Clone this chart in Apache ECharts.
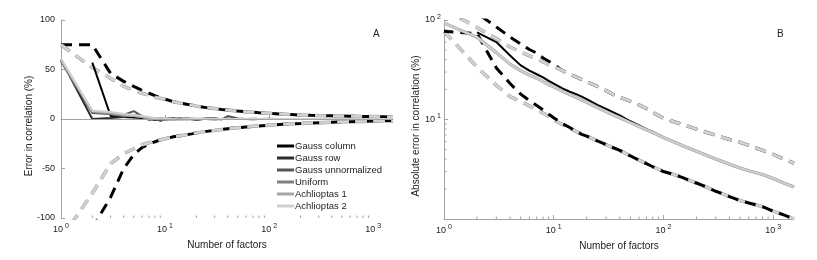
<!DOCTYPE html>
<html><head><meta charset="utf-8">
<script src="https://cdn.jsdelivr.net/npm/echarts@6/dist/echarts.min.js"></script>
<style>html,body{margin:0;padding:0;background:#fff}#c{width:817px;height:260px}</style>
</head><body><div id="c"></div>
<script>
// ---------- data ----------
const factors = [1,2,3,4,5,6,7,8,9,10,12,14,16,18,20,25,30,35,40,50,60,70,80,100,125,150,200,250,300,400,500,600,800,1000,1250,1550];

const methodNames = ['Gauss column','Gauss row','Gauss unnormalized','Uniform','Achlioptas 1','Achlioptas 2'];

// Panel A: signed error in correlation (%), mean per method
const gaussColumnErr = [null,57,3,2,1.5,1,0.5,0,-0.5,0.5,0,0.3,-0.3,0.2,0,0.1,-0.2,0.1,0,0,0.1,0,0,0,0,0,0,0,0,0,0,0,0,0,0,0];
const gaussRowErr    = [60,0,1,2,4,2,0,-1,0,1,0,-0.5,0.5,0,-0.5,0.3,0,0,0.2,0,0,-0.2,0,0,0,0,0,0,0,0,0,0,0,0,0,0];
const gaussUnnormErr = [59,6,5,4,8,3,-1,1,-2,0,1,-1,0.5,0,-1,0.5,1,-0.5,3,0.5,0,0.3,0,0.2,0,0,0,0,0,0,0,0,0,0,0,0];
const uniformErr     = [58,7,5,3,3,2,0,1,0,-1,0,1,0,-0.5,0,0.5,0,0,0.3,0,0,0,0,0,0,0,0,0,0,0,0,0,0,0,0,0];
const achl1Err       = [60,8,6,4,3,2,1,0,1,0,-1,0,0.5,0,0.3,0,-0.3,0,0,0,0,0,0,0,0,0,0,0,0,0,0,0,0,0,0,0];
const achl2Err       = [61,8,7,5,4,3,2,1,0,1,0,-1,0,0.5,0,0,0.3,0,0,0,0,0,0,0,0,0,0,0,0,0,0,0,0,0,0,0];

// Panel A: spread bounds (dashed)
const colUpperErr    = [75,75,46,38,33,29,26,23.5,21.5,20,17.5,16,15,14,13,11.5,10.5,9.5,9,8,7.3,6.8,6.3,5.7,5.1,4.7,4.1,3.7,3.5,3.3,3.1,2.9,2.6,2.4,2.2,2.0];
const othersUpperErr = [75,52,41,33,29,26,24,22,21,20,17.5,16,15,14,13,11.5,10.5,9.5,9,8,7.3,6.8,6.3,5.7,5.1,4.7,4.1,3.7,3.5,3.3,3.1,2.9,2.6,2.4,2.2,2.0];
const colLowerErr    = [-130,-110,-79,-50,-36,-29,-25,-23,-21,-20,-18,-17,-16,-15,-14,-12.5,-11.5,-10.5,-9.8,-8.8,-8,-7.4,-7,-6.3,-5.6,-5.1,-4.5,-4,-3.7,-3.2,-2.9,-2.7,-2.4,-2.1,-1.9,-1.7];
const othersLowerErr = [-121,-75,-45,-35,-30,-26,-24,-22.5,-21,-20,-18,-17,-16,-15,-14,-12.5,-11.5,-10.5,-9.8,-8.8,-8,-7.4,-7,-6.3,-5.6,-5.1,-4.5,-4,-3.7,-3.2,-2.9,-2.7,-2.4,-2.1,-1.9,-1.7];

// Panel B: absolute error in correlation (%)
const colAbs          = [null,75,60,44,35,31,28.5,26.5,24.5,23,20.5,19,18,17,16,14,12.8,11.8,11,9.6,8.7,8.0,7.5,6.6,5.95,5.45,4.8,4.35,4.0,3.55,3.25,3.05,2.8,2.55,2.3,2.1];
const othersAbs       = [93,67,47,36,31,28,26,24,22.5,21.3,19.3,17.8,16.7,15.7,14.9,13.2,12.0,11.1,10.4,9.3,8.5,7.9,7.4,6.6,5.95,5.45,4.8,4.35,4.0,3.55,3.25,3.05,2.8,2.55,2.3,2.1];
const colAbsUpper     = [117,117,85,67.5,57.6,50.5,46.5,41.5,38.5,36,31,28.5,26.8,25.2,24,21.5,19.5,17.8,16.8,15.2,14,12.9,11.8,10.3,9.5,8.9,8.0,7.4,6.95,6.3,5.9,5.5,4.9,4.45,4.0,3.65];
const othersAbsUpper  = [128,84,65,53.5,47.6,43.5,40.5,38,35.5,34,31,28.5,26.8,25.2,24,21.5,19.5,17.8,16.8,15.2,14,12.9,11.8,10.3,9.5,8.9,8.0,7.4,6.95,6.3,5.9,5.5,4.9,4.45,4.0,3.65];
const colAbsLower     = [77,73,33,23,18,15.5,13.8,12.5,11.3,10.4,9.1,8.3,7.6,7.1,6.8,6.1,5.6,5.2,4.9,4.3,3.9,3.6,3.35,3.0,2.8,2.6,2.3,2.08,1.9,1.68,1.53,1.45,1.33,1.2,1.1,1.0];
const othersAbsLower  = [77,33.6,22,17,15.2,13.7,12.5,11.6,10.7,9.9,8.9,8.2,7.6,7.1,6.8,6.1,5.6,5.2,4.9,4.3,3.9,3.6,3.35,3.0,2.8,2.6,2.3,2.08,1.9,1.68,1.53,1.45,1.33,1.2,1.1,1.0];

// tick values
const errTicks = [-100,-50,0,50,100];
const minorFactorTicks = [2,3,4,5,6,7,8,9,20,30,40,50,60,70,80,90,200,300,400,500,600,700,800,900];
const minorAbsTicks = [2,3,4,5,6,7,8,9,20,30,40,50,60,70,80,90];

// ---------- chart ----------
const FONT = '"Liberation Sans", Arial, Helvetica, sans-serif';
const AXIS_COLOR = '#a3a3a3';
const TEXT_COLOR = '#222';
const colors = ['#000000','#2b2b2b','#555555','#7f7f7f','#a6a6a6','#cfcfcf'];
const DASH = [11,7];
const DASH_PERIOD = DASH[0] + DASH[1];

function pairs(ys){ return factors.map((x,i)=>[x, ys[i]]); }
function powLabel(v){
  const e = Math.round(Math.log10(v));
  if (Math.abs(Math.pow(10,e) - v) > 1e-6 * v) return '';
  return '{b|10}{s|' + e + '}';
}
const rich = {
  b:{fontSize:9, fontFamily:FONT, color:TEXT_COLOR},
  s:{fontSize:7, fontFamily:FONT, color:TEXT_COLOR, padding:[0,0,6,2]}
};
const nameStyle = {fontSize:10, fontFamily:FONT, color:TEXT_COLOR};

function xAxisLog(grid){
  return {gridIndex:grid, type:'log', logBase:10, min:1, max:factors[factors.length-1],
    axisLine:{lineStyle:{color:AXIS_COLOR, width:1}},
    axisTick:{inside:true, length:4, lineStyle:{color:AXIS_COLOR}},
    axisLabel:{formatter:powLabel, rich:rich, margin:5, showMaxLabel:false},
    splitLine:{show:false}, minorTick:{show:false},
    name:'Number of factors', nameLocation:'middle', nameGap:22, nameTextStyle:nameStyle};
}

function minorXSeries(xi, yi, yVal){
  return {type:'custom', xAxisIndex:xi, yAxisIndex:yi, silent:true, clip:false, z:1,
    data: minorFactorTicks.map(v=>[v, yVal]),
    renderItem:function(params, api){
      const pt = api.coord([api.value(0), api.value(1)]);
      const cs = params.coordSys;
      const y0 = cs.y + cs.height;
      return {type:'line', shape:{x1:pt[0], y1:y0, x2:pt[0], y2:y0-2.5}, style:{stroke:AXIS_COLOR, lineWidth:1}};
    }};
}
function minorYSeries(xi, yi){
  return {type:'custom', xAxisIndex:xi, yAxisIndex:yi, silent:true, clip:false, z:1,
    data: minorAbsTicks.map(v=>[factors[0], v]),
    renderItem:function(params, api){
      const pt = api.coord([api.value(0), api.value(1)]);
      const cs = params.coordSys;
      return {type:'line', shape:{x1:cs.x, y1:pt[1], x2:cs.x+2.5, y2:pt[1]}, style:{stroke:AXIS_COLOR, lineWidth:1}};
    }};
}

function lineS(id, name, data, xi, color, width, dash, opts){
  return Object.assign({type:'line', id:id, name:name, xAxisIndex:xi, yAxisIndex:xi, data:pairs(data),
    showSymbol:false, symbol:'none', silent:true, clip:true, connectNulls:false,
    lineStyle:{color:color, width:width, type: dash ? DASH : 'solid', dashOffset:0},
    itemStyle:{color:color}}, opts || {});
}

const meansA = [gaussColumnErr, gaussRowErr, gaussUnnormErr, uniformErr, achl1Err, achl2Err];

const series = [];
// Panel A dashed bounds
series.push(lineS('colUpperA','colUpperA', colUpperErr, 0, '#000', 3, true, {
  markLine:{silent:true, symbol:'none', label:{show:false}, animation:false,
    lineStyle:{color:AXIS_COLOR, type:'solid', width:1}, data:[{yAxis:0}]}}));
series.push(lineS('colLowerA','colLowerA', colLowerErr, 0, '#000', 3, true));
series.push(lineS('oUA1','othersUpperA1', othersUpperErr, 0, '#9a9a9a', 3.5, true));
series.push(lineS('oLA1','othersLowerA1', othersLowerErr, 0, '#9a9a9a', 3.5, true));
series.push(lineS('oUA2','othersUpperA2', othersUpperErr, 0, '#d2d2d2', 2.5, true));
series.push(lineS('oLA2','othersLowerA2', othersLowerErr, 0, '#d2d2d2', 2.5, true));
// Panel A means
methodNames.forEach((n,i)=>{ series.push(lineS('meanA'+i, n, meansA[i], 0, colors[i], 2, false)); });

// Panel B
series.push(lineS('colUpperB','colUpperB', colAbsUpper, 1, '#000', 3, true));
series.push(lineS('oUB1','othersUpperB1', othersAbsUpper, 1, '#9a9a9a', 3.5, true));
series.push(lineS('oUB2','othersUpperB2', othersAbsUpper, 1, '#d2d2d2', 2.5, true));
series.push(lineS('oLB1','othersLowerB1', othersAbsLower, 1, '#9a9a9a', 3.5, true));
series.push(lineS('oLB2','othersLowerB2', othersAbsLower, 1, '#d2d2d2', 2.5, true));
series.push(lineS('colLowerB','colLowerB', colAbsLower, 1, '#000', 3, true));
series.push(lineS('colAbsB','colAbsB', colAbs, 1, '#000', 2, false));
series.push(lineS('oAB1','othersAbsB1', othersAbs, 1, '#9a9a9a', 3.2, false));
series.push(lineS('oAB2','othersAbsB2', othersAbs, 1, '#cfcfcf', 2.2, false));

series.push(minorXSeries(0, 0, 0));
series.push(minorXSeries(1, 1, 1));
series.push(minorYSeries(1, 1));

const option = {
  animation:false,
  backgroundColor:'#fff',
  textStyle:{fontFamily:FONT},
  grid:[
    {left:61, top:20, width:332, height:198},
    {left:444, top:20, width:350, height:199}
  ],
  xAxis:[xAxisLog(0), xAxisLog(1)],
  yAxis:[
    {gridIndex:0, type:'value', min:errTicks[0], max:errTicks[errTicks.length-1], interval:50,
      axisLine:{show:true, lineStyle:{color:AXIS_COLOR}},
      axisTick:{show:true, inside:true, length:4, lineStyle:{color:AXIS_COLOR}},
      axisLabel:{fontSize:9, color:TEXT_COLOR, fontFamily:FONT, margin:6},
      splitLine:{show:false}},
    {gridIndex:1, type:'log', logBase:10, min:1, max:100,
      axisLine:{show:true, lineStyle:{color:AXIS_COLOR}},
      axisTick:{show:true, inside:true, length:4, lineStyle:{color:AXIS_COLOR}},
      axisLabel:{formatter:powLabel, rich:rich, margin:3, showMinLabel:false},
      splitLine:{show:false}}
  ],
  legend:{
    data:methodNames, orient:'vertical', left:272, top:135, itemWidth:17, itemHeight:3, itemGap:0,
    icon:'rect', selectedMode:false,
    textStyle:{fontSize:9.5, color:TEXT_COLOR, fontFamily:FONT, lineHeight:12, padding:[0,0,0,-4]}
  },
  graphic:[
    {type:'text', left:373, top:29, style:{text:'A', font:'10px ' + FONT, fill:TEXT_COLOR}},
    {type:'text', left:777, top:29, style:{text:'B', font:'10px ' + FONT, fill:TEXT_COLOR}},
    {type:'text', x:29, y:126, rotation:Math.PI/2,
      style:{text:'Error in correlation (%)', font:'10px ' + FONT, fill:TEXT_COLOR, align:'center', verticalAlign:'middle'}},
    {type:'text', x:416, y:126, rotation:Math.PI/2,
      style:{text:'Absolute error in correlation (%)', font:'10px ' + FONT, fill:TEXT_COLOR, align:'center', verticalAlign:'middle'}}
  ],
  series:series
};

const chart = echarts.init(document.getElementById('c'), null, {renderer:'canvas'});
chart.setOption(option);

// align dash phases of the overlapping dashed curves in panel B (styling only)
function pathLen(ys, grid, upto){
  let L = 0, prev = null;
  for (let i = 0; i <= upto; i++){
    const p = chart.convertToPixel({gridIndex:grid}, [factors[i], ys[i]]);
    if (prev) L += Math.hypot(p[0]-prev[0], p[1]-prev[1]);
    prev = p;
  }
  return L;
}
function mod(a, m){ return ((a % m) + m) % m; }
const upMerge = 10, lowMerge = 12;
const offUp = mod(pathLen(othersAbsUpper,1,upMerge) - pathLen(colAbsUpper,1,upMerge), DASH_PERIOD);
const offLow = mod(pathLen(othersAbsLower,1,lowMerge) - pathLen(colAbsLower,1,lowMerge) + DASH_PERIOD/2, DASH_PERIOD);
chart.setOption({series:[
  {id:'colUpperB', lineStyle:{dashOffset:offUp}},
  {id:'colLowerB', lineStyle:{dashOffset:offLow}}
]});
</script>
</body></html>
